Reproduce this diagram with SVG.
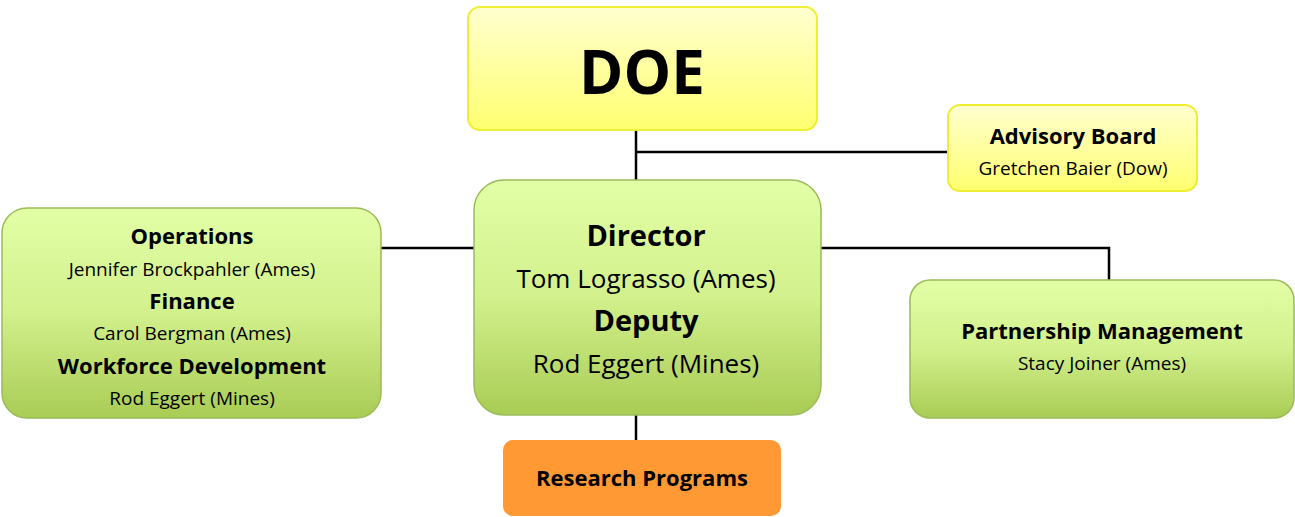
<svg xmlns="http://www.w3.org/2000/svg" width="1295" height="517" viewBox="0 0 1295 517">
<defs>
<linearGradient id="gy" x1="0" y1="0" x2="0" y2="1"><stop offset="0" stop-color="#ffffd0"/><stop offset="1" stop-color="#ffff70"/></linearGradient>
<linearGradient id="gg" x1="0" y1="0" x2="0" y2="1"><stop offset="0" stop-color="#e2ffa6"/><stop offset="0.5" stop-color="#d2f08c"/><stop offset="1" stop-color="#a9cc55"/></linearGradient>
</defs>
<style>
text{font-family:"Open Sans","Liberation Sans",sans-serif;text-anchor:middle;fill:#000}
.b{font-weight:bold}
.y{fill:url(#gy);stroke:#eeee33;stroke-width:2}
.g{fill:url(#gg);stroke:#9bbb59;stroke-width:1.5}
.c line,.c path{stroke:#000;stroke-width:2.5;fill:none}
</style>
<rect width="1295" height="517" fill="#fff"/>
<g class="c">
<line x1="636" y1="130" x2="636" y2="180"/>
<line x1="636" y1="152" x2="948" y2="152"/>
<line x1="381" y1="248" x2="474" y2="248"/>
<path d="M821 248H1109V280"/>
<line x1="636" y1="415" x2="636" y2="440"/>
</g>
<g id="doe"><rect class="y" x="468" y="7" width="349" height="123" rx="12"/><text class="b" x="642" y="94" font-size="60">DOE</text></g>
<g id="advisory"><rect class="y" x="948" y="105" width="249" height="86" rx="12"/><text class="b" x="1073" y="144" font-size="22">Advisory Board</text><text x="1073" y="175" font-size="19">Gretchen Baier (Dow)</text></g>
<g id="director"><rect class="g" x="474" y="180" width="347" height="235" rx="30"/>
<text class="b" x="646" y="246" font-size="29">Director</text><text x="646" y="288" font-size="26">Tom Lograsso (Ames)</text>
<text class="b" x="646" y="331" font-size="29">Deputy</text><text x="646" y="373" font-size="26">Rod Eggert (Mines)</text></g>
<g id="operations"><rect class="g" x="2" y="208" width="379" height="210" rx="25"/>
<text class="b" x="192" y="244" font-size="22">Operations</text><text x="192" y="276" font-size="19">Jennifer Brockpahler (Ames)</text>
<text class="b" x="192" y="309" font-size="22">Finance</text><text x="192" y="340" font-size="19">Carol Bergman (Ames)</text>
<text class="b" x="192" y="374" font-size="22">Workforce Development</text><text x="192" y="405" font-size="19">Rod Eggert (Mines)</text></g>
<g id="partnership"><rect class="g" x="910" y="280" width="384" height="138" rx="20"/>
<text class="b" x="1102" y="339" font-size="22">Partnership Management</text><text x="1102" y="370" font-size="19">Stacy Joiner (Ames)</text></g>
<g id="research"><rect x="503" y="440" width="278" height="76" rx="10" fill="#ff9933"/><text class="b" x="642" y="486" font-size="22">Research Programs</text></g>
</svg>
